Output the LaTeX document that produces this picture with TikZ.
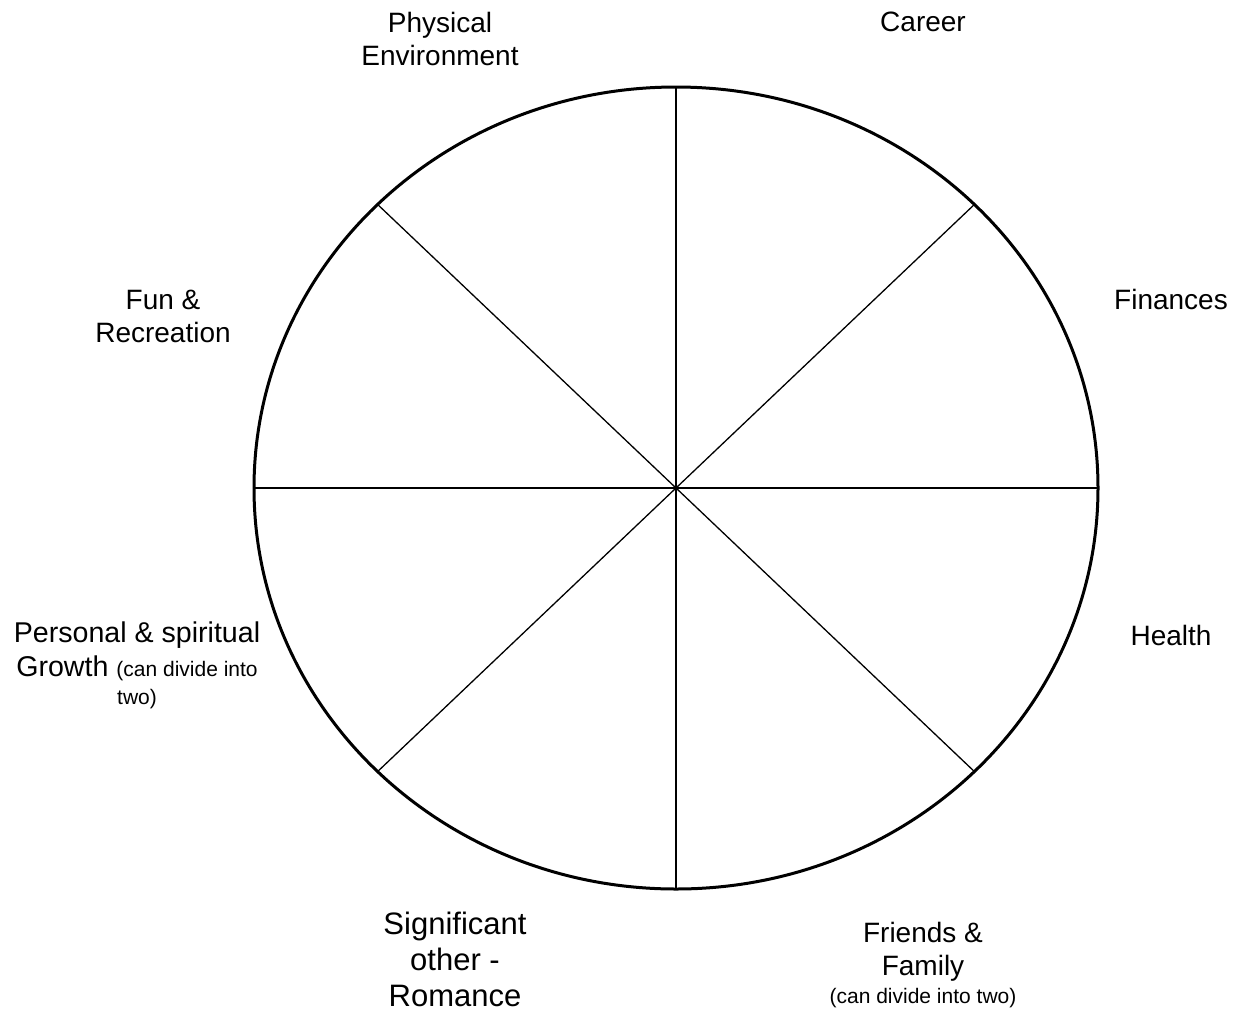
\documentclass[tikz,border=0pt]{standalone}
\usepackage{fontspec}
\setmainfont{Liberation Sans}
\newcommand{\smalltxt}{\fontsize{21}{25}\selectfont}
\begin{document}
\begin{tikzpicture}[x=1pt, y=-1pt,
    rim/.style={line width=3pt},
    spoke/.style={line width=1.3pt},
    lab/.style={align=center, inner sep=0pt, font=\fontsize{28}{33}\selectfont}]
    \useasboundingbox (0,0) rectangle (1234,1010);

    % Centre and rim of the wheel
    \coordinate (C) at (676,488);
    \draw[rim] (C) ellipse [x radius=422pt, y radius=401pt];

    % Eight spokes
    \foreach \a in {0,45,...,315}
        \path (C) ++ ({422*cos(\a)},{-401*sin(\a)}) coordinate (r\a);
    \foreach \a in {0,45,...,315}
        \draw[spoke] (C) -- (r\a);

    % Labels around the wheel
    \node[lab] (phys) at (440,39) {Physical\\Environment};
    \node[lab] (career) at (923,22) {Career};
    \node[lab] (fin) at (1171,299) {Finances};
    \node[lab] (fun) at (163,316) {Fun \&\\Recreation};
    \node[lab] (health) at (1171,635) {Health};
    \node[lab, font=\fontsize{28.6}{34}\selectfont] (growth) at (137,665.5)
        {Personal \& spiritual\\Growth {\smalltxt(can divide into}\\[-6pt]{\smalltxt two)}};
    \node[lab, font=\fontsize{31}{36}\selectfont] (romance) at (455,959) {Significant\\other -\\Romance};
    \node[lab] (friends) at (923,965.5) {Friends \&\\Family\\[-5pt]{\smalltxt(can divide into two)}};
\end{tikzpicture}
\end{document}
